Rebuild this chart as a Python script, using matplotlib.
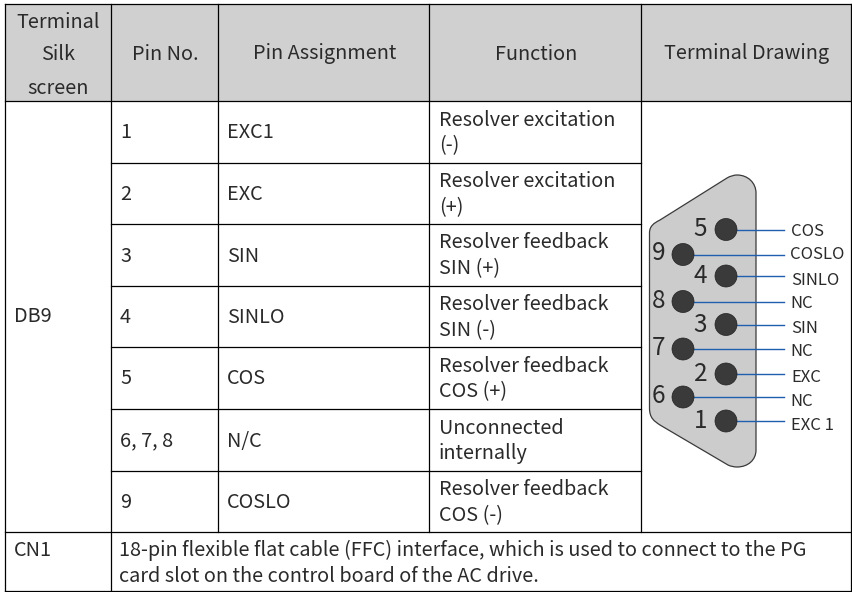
import matplotlib
matplotlib.use('Agg')
import matplotlib.pyplot as plt
from matplotlib.patches import PathPatch, Rectangle, Circle
from matplotlib.path import Path

plt.rcParams['font.family'] = ['Noto Sans CJK SC', 'DejaVu Sans']

# table content
headers = ['Terminal\nSilk\nscreen', 'Pin No.', 'Pin Assignment', 'Function', 'Terminal Drawing']
pin_nos = ['1', '2', '3', '4', '5', '6, 7, 8', '9']
assignments = ['EXC1', 'EXC', 'SIN', 'SINLO', 'COS', 'N/C', 'COSLO']
functions = ['Resolver excitation\n(-)', 'Resolver excitation\n(+)', 'Resolver feedback\nSIN (+)',
             'Resolver feedback\nSIN (-)', 'Resolver feedback\nCOS (+)', 'Unconnected\ninternally',
             'Resolver feedback\nCOS (-)']
silk_db9 = 'DB9'
silk_cn1 = 'CN1'
cn1_text = ['18-pin flexible flat cable (FFC) interface, which is used to connect to the PG',
            'card slot on the control board of the AC drive.']

# connector drawing: pin number, wire label
even_pins = ['5', '4', '3', '2', '1']
even_labels = ['COS', 'SINLO', 'SIN', 'EXC', 'EXC 1']
odd_pins = ['9', '8', '7', '6']
odd_labels = ['COSLO', 'NC', 'NC', 'NC']

col_x = [5, 111, 218, 429, 641, 851]
row_y = [4, 101, 163, 224, 286, 347, 409, 471, 532, 591]

fig = plt.figure(figsize=(8.53, 5.92), dpi=100)
ax = fig.add_axes([0, 0, 1, 1])
ax.set_xlim(0, 853)
ax.set_ylim(592, 0)
ax.axis('off')

# header
ax.add_patch(Rectangle((col_x[0], row_y[0]), col_x[-1] - col_x[0], row_y[1] - row_y[0], fc='#d0d0d0', ec='none'))
FS = 14.3
TC = '#2a2a2a'
for i, h in enumerate(headers):
    cx = (col_x[i] + col_x[i + 1]) / 2 + 1
    if i == 0:
        for k, part in enumerate(h.split('\n')):
            ax.text(cx - 1, 22 + k * 33, part, ha='center', va='center', fontsize=FS, color=TC)
    else:
        ax.text(cx, 54, h, ha='center', va='center', fontsize=FS, color=TC)

# body
for i in range(7):
    cy = (row_y[i + 1] + row_y[i + 2]) / 2 + 1
    ax.text(col_x[1] + 9, cy, pin_nos[i], va='center', fontsize=FS, color=TC)
    ax.text(col_x[2] + 9, cy, assignments[i], va='center', fontsize=FS, color=TC)
    a, b = functions[i].split('\n')
    ax.text(col_x[3] + 10, cy - 13, a, va='center', fontsize=FS, color=TC)
    ax.text(col_x[3] + 10, cy + 13, b, va='center', fontsize=FS, color=TC)
ax.text(col_x[0] + 9, 317, silk_db9, va='center', fontsize=FS, color=TC)
ax.text(col_x[0] + 9, 550, silk_cn1, va='center', fontsize=FS, color=TC)
ax.text(col_x[1] + 8, 550, cn1_text[0], va='center', fontsize=FS, color=TC)
ax.text(col_x[1] + 8, 576, cn1_text[1], va='center', fontsize=FS, color=TC)

# grid
LW = 0.9
for y in row_y:
    if y in row_y[2:8]:
        ax.plot([col_x[1], col_x[4]], [y, y], color='k', lw=LW)
    else:
        ax.plot([col_x[0], col_x[-1]], [y, y], color='k', lw=LW)
for x in [col_x[0], col_x[-1]]:
    ax.plot([x, x], [row_y[0], row_y[-1]], color='k', lw=LW)
ax.plot([col_x[1]] * 2, [row_y[0], row_y[-1]], color='k', lw=LW)
for x in col_x[2:5]:
    ax.plot([x, x], [row_y[0], row_y[8]], color='k', lw=LW)

# connector shell
verts = [(649.5, 233), (649.5, 226), (654, 223), (660, 220), (727, 178), (732, 175), (737, 175),
         (748, 175), (756, 183), (756, 193), (756, 450), (756, 460), (748, 467), (737, 467),
         (732, 467), (728, 465), (660, 425), (654, 421), (649.5, 418), (649.5, 408), (649.5, 233)]
codes = [Path.MOVETO, Path.CURVE4, Path.CURVE4, Path.CURVE4, Path.LINETO, Path.CURVE3, Path.CURVE3,
         Path.CURVE4, Path.CURVE4, Path.CURVE4, Path.LINETO, Path.CURVE4, Path.CURVE4, Path.CURVE4,
         Path.CURVE3, Path.CURVE3, Path.LINETO, Path.CURVE4, Path.CURVE4, Path.CURVE4, Path.LINETO]
ax.add_patch(PathPatch(Path(verts, codes), fc='#cccccc', ec='#3a3a3a', lw=0.9))

even_y = [229.5, 276, 324.5, 374, 421]
odd_y = [254.5, 301.5, 349, 397]
even_label_y = [232, 280.5, 328.5, 378, 426]
odd_label_y = [254.5, 304, 352, 401]
BLUE = '#1f5fae'
PIN = '#3a3a3a'
for p, lab, y, ly in zip(even_pins, even_labels, even_y, even_label_y):
    ax.plot([726, 784], [y, y], color=BLUE, lw=1, zorder=3)
    ax.add_patch(Circle((726, y), 11, fc=PIN, ec='#222222', lw=0.5, zorder=4))
    ax.text(700.5, y, p, ha='center', va='center', fontsize=17.5, color=TC)
    ax.text(791, ly, lab, va='center', fontsize=12, color=TC)
for p, lab, y, ly in zip(odd_pins, odd_labels, odd_y, odd_label_y):
    ax.plot([683, 784], [y, y], color=BLUE, lw=1, zorder=3)
    ax.add_patch(Circle((683, y), 11, fc=PIN, ec='#222222', lw=0.5, zorder=4))
    ax.text(658.5, y - 1, p, ha='center', va='center', fontsize=17.5, color=TC)
    ax.text(790, ly, lab, va='center', fontsize=12, color=TC)

fig.savefig('out.png', dpi=100)
